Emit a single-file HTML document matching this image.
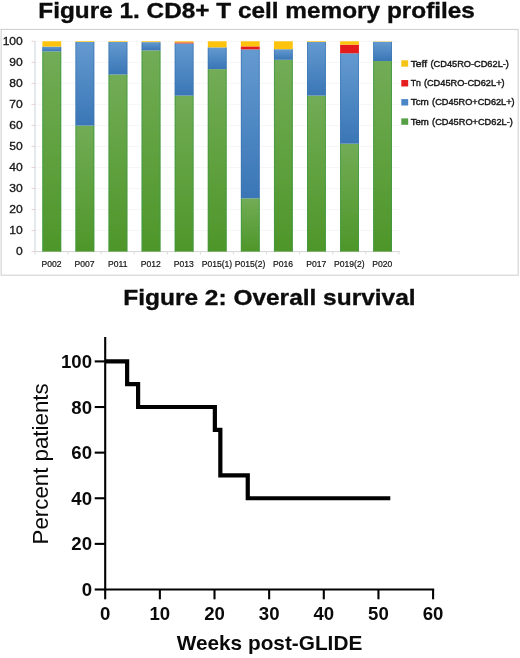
<!DOCTYPE html>
<html><head><meta charset="utf-8"><title>Figure</title>
<style>
html,body{margin:0;padding:0;background:#fff;}
body{width:520px;height:658px;overflow:hidden;font-family:"Liberation Sans",sans-serif;}
svg{display:block;}
text{font-family:"Liberation Sans",sans-serif;}
</style></head><body>
<svg width="520" height="658" viewBox="0 0 520 658">
<defs>
<linearGradient id="gG" x1="0" x2="0" y1="0" y2="1"><stop offset="0" stop-color="#72ac56"/><stop offset="1" stop-color="#4e9629"/></linearGradient>
<linearGradient id="gB" x1="0" x2="0" y1="0" y2="1"><stop offset="0" stop-color="#649ad0"/><stop offset="1" stop-color="#3a76b6"/></linearGradient>
<filter id="soft" x="0" y="0" width="520" height="300" filterUnits="userSpaceOnUse"><feGaussianBlur stdDeviation="0.45"/></filter>
</defs>
<rect x="0" y="0" width="520" height="658" fill="#fff"/>
<g opacity="0.999">
<text x="38.3" y="18" font-size="22.2" font-weight="bold" fill="#0c0c0c" stroke="#0c0c0c" stroke-width="0.35" textLength="436.6" lengthAdjust="spacingAndGlyphs">Figure 1. CD8+ T cell memory profiles</text>
<g filter="url(#soft)">
<rect x="1.1" y="29.4" width="517.1" height="245.8" fill="#fff" stroke="#cdcdcd" stroke-width="1"/>
<line x1="31.5" x2="35.0" y1="251.60" y2="251.60" stroke="#ecd2d0" stroke-width="1"/>
<text transform="translate(22.8,255.15) scale(1.1,1)" font-size="11" text-anchor="end" fill="#151515" stroke="#151515" stroke-width="0.3">0</text>
<line x1="31.5" x2="35.0" y1="230.57" y2="230.57" stroke="#ecd2d0" stroke-width="1"/>
<line x1="35.0" x2="398.88" y1="230.57" y2="230.57" stroke="#f6f6f6" stroke-width="1"/>
<text transform="translate(22.8,234.12) scale(1.1,1)" font-size="11" text-anchor="end" fill="#151515" stroke="#151515" stroke-width="0.3">10</text>
<line x1="31.5" x2="35.0" y1="209.54" y2="209.54" stroke="#ecd2d0" stroke-width="1"/>
<line x1="35.0" x2="398.88" y1="209.54" y2="209.54" stroke="#f6f6f6" stroke-width="1"/>
<text transform="translate(22.8,213.09) scale(1.1,1)" font-size="11" text-anchor="end" fill="#151515" stroke="#151515" stroke-width="0.3">20</text>
<line x1="31.5" x2="35.0" y1="188.51" y2="188.51" stroke="#ecd2d0" stroke-width="1"/>
<line x1="35.0" x2="398.88" y1="188.51" y2="188.51" stroke="#f6f6f6" stroke-width="1"/>
<text transform="translate(22.8,192.06) scale(1.1,1)" font-size="11" text-anchor="end" fill="#151515" stroke="#151515" stroke-width="0.3">30</text>
<line x1="31.5" x2="35.0" y1="167.48" y2="167.48" stroke="#ecd2d0" stroke-width="1"/>
<line x1="35.0" x2="398.88" y1="167.48" y2="167.48" stroke="#f6f6f6" stroke-width="1"/>
<text transform="translate(22.8,171.03) scale(1.1,1)" font-size="11" text-anchor="end" fill="#151515" stroke="#151515" stroke-width="0.3">40</text>
<line x1="31.5" x2="35.0" y1="146.45" y2="146.45" stroke="#ecd2d0" stroke-width="1"/>
<line x1="35.0" x2="398.88" y1="146.45" y2="146.45" stroke="#f6f6f6" stroke-width="1"/>
<text transform="translate(22.8,150.00) scale(1.1,1)" font-size="11" text-anchor="end" fill="#151515" stroke="#151515" stroke-width="0.3">50</text>
<line x1="31.5" x2="35.0" y1="125.42" y2="125.42" stroke="#ecd2d0" stroke-width="1"/>
<line x1="35.0" x2="398.88" y1="125.42" y2="125.42" stroke="#f6f6f6" stroke-width="1"/>
<text transform="translate(22.8,128.97) scale(1.1,1)" font-size="11" text-anchor="end" fill="#151515" stroke="#151515" stroke-width="0.3">60</text>
<line x1="31.5" x2="35.0" y1="104.39" y2="104.39" stroke="#ecd2d0" stroke-width="1"/>
<line x1="35.0" x2="398.88" y1="104.39" y2="104.39" stroke="#f6f6f6" stroke-width="1"/>
<text transform="translate(22.8,107.94) scale(1.1,1)" font-size="11" text-anchor="end" fill="#151515" stroke="#151515" stroke-width="0.3">70</text>
<line x1="31.5" x2="35.0" y1="83.36" y2="83.36" stroke="#ecd2d0" stroke-width="1"/>
<line x1="35.0" x2="398.88" y1="83.36" y2="83.36" stroke="#f6f6f6" stroke-width="1"/>
<text transform="translate(22.8,86.91) scale(1.1,1)" font-size="11" text-anchor="end" fill="#151515" stroke="#151515" stroke-width="0.3">80</text>
<line x1="31.5" x2="35.0" y1="62.33" y2="62.33" stroke="#ecd2d0" stroke-width="1"/>
<line x1="35.0" x2="398.88" y1="62.33" y2="62.33" stroke="#f6f6f6" stroke-width="1"/>
<text transform="translate(22.8,65.88) scale(1.1,1)" font-size="11" text-anchor="end" fill="#151515" stroke="#151515" stroke-width="0.3">90</text>
<line x1="31.5" x2="35.0" y1="41.30" y2="41.30" stroke="#ecd2d0" stroke-width="1"/>
<line x1="35.0" x2="398.88" y1="41.30" y2="41.30" stroke="#f6f6f6" stroke-width="1"/>
<text transform="translate(22.8,44.85) scale(1.1,1)" font-size="11" text-anchor="end" fill="#151515" stroke="#151515" stroke-width="0.3">100</text>
<line x1="35.0" x2="35.0" y1="41.3" y2="251.6" stroke="#c9d3dc" stroke-width="1"/>
<line x1="35.0" x2="399.88" y1="251.6" y2="251.6" stroke="#d4d4d4" stroke-width="1"/>
<line x1="35.00" x2="35.00" y1="251.6" y2="254.6" stroke="#dcdcdc" stroke-width="1"/>
<line x1="68.08" x2="68.08" y1="251.6" y2="254.6" stroke="#dcdcdc" stroke-width="1"/>
<line x1="101.16" x2="101.16" y1="251.6" y2="254.6" stroke="#dcdcdc" stroke-width="1"/>
<line x1="134.24" x2="134.24" y1="251.6" y2="254.6" stroke="#dcdcdc" stroke-width="1"/>
<line x1="167.32" x2="167.32" y1="251.6" y2="254.6" stroke="#dcdcdc" stroke-width="1"/>
<line x1="200.40" x2="200.40" y1="251.6" y2="254.6" stroke="#dcdcdc" stroke-width="1"/>
<line x1="233.48" x2="233.48" y1="251.6" y2="254.6" stroke="#dcdcdc" stroke-width="1"/>
<line x1="266.56" x2="266.56" y1="251.6" y2="254.6" stroke="#dcdcdc" stroke-width="1"/>
<line x1="299.64" x2="299.64" y1="251.6" y2="254.6" stroke="#dcdcdc" stroke-width="1"/>
<line x1="332.72" x2="332.72" y1="251.6" y2="254.6" stroke="#dcdcdc" stroke-width="1"/>
<line x1="365.80" x2="365.80" y1="251.6" y2="254.6" stroke="#dcdcdc" stroke-width="1"/>
<line x1="398.88" x2="398.88" y1="251.6" y2="254.6" stroke="#dcdcdc" stroke-width="1"/>
<rect x="42.40" y="51.40" width="18.8" height="200.20" fill="url(#gG)"/>
<rect x="42.40" y="51.40" width="0.9" height="200.20" fill="#3f9a44" fill-opacity="0.8"/>
<rect x="60.30" y="51.40" width="0.9" height="200.20" fill="#3f9a44" fill-opacity="0.8"/>
<rect x="42.40" y="46.60" width="18.8" height="4.80" fill="url(#gB)"/>
<rect x="42.40" y="46.60" width="0.9" height="4.80" fill="#3a74b4" fill-opacity="0.7"/>
<rect x="60.30" y="46.60" width="0.9" height="4.80" fill="#3a74b4" fill-opacity="0.7"/>
<rect x="42.40" y="41.30" width="18.8" height="5.30" fill="#fdc30c"/>
<text transform="translate(51.54,267.4) scale(0.925,1)" font-size="9.3" text-anchor="middle" fill="#151515" stroke="#151515" stroke-width="0.22">P002</text>
<rect x="75.48" y="125.60" width="18.8" height="126.00" fill="url(#gG)"/>
<rect x="75.48" y="125.60" width="0.9" height="126.00" fill="#3f9a44" fill-opacity="0.8"/>
<rect x="93.38" y="125.60" width="0.9" height="126.00" fill="#3f9a44" fill-opacity="0.8"/>
<rect x="75.48" y="42.00" width="18.8" height="83.60" fill="url(#gB)"/>
<rect x="75.48" y="42.00" width="0.9" height="83.60" fill="#3a74b4" fill-opacity="0.7"/>
<rect x="93.38" y="42.00" width="0.9" height="83.60" fill="#3a74b4" fill-opacity="0.7"/>
<rect x="75.48" y="41.30" width="18.8" height="0.70" fill="#fdc30c"/>
<text transform="translate(84.62,267.4) scale(0.925,1)" font-size="9.3" text-anchor="middle" fill="#151515" stroke="#151515" stroke-width="0.22">P007</text>
<rect x="108.56" y="74.50" width="18.8" height="177.10" fill="url(#gG)"/>
<rect x="108.56" y="74.50" width="0.9" height="177.10" fill="#3f9a44" fill-opacity="0.8"/>
<rect x="126.46" y="74.50" width="0.9" height="177.10" fill="#3f9a44" fill-opacity="0.8"/>
<rect x="108.56" y="42.00" width="18.8" height="32.50" fill="url(#gB)"/>
<rect x="108.56" y="42.00" width="0.9" height="32.50" fill="#3a74b4" fill-opacity="0.7"/>
<rect x="126.46" y="42.00" width="0.9" height="32.50" fill="#3a74b4" fill-opacity="0.7"/>
<rect x="108.56" y="41.30" width="18.8" height="0.70" fill="#fdc30c"/>
<text transform="translate(117.70,267.4) scale(0.925,1)" font-size="9.3" text-anchor="middle" fill="#151515" stroke="#151515" stroke-width="0.22">P011</text>
<rect x="141.64" y="50.40" width="18.8" height="201.20" fill="url(#gG)"/>
<rect x="141.64" y="50.40" width="0.9" height="201.20" fill="#3f9a44" fill-opacity="0.8"/>
<rect x="159.54" y="50.40" width="0.9" height="201.20" fill="#3f9a44" fill-opacity="0.8"/>
<rect x="141.64" y="42.10" width="18.8" height="8.30" fill="url(#gB)"/>
<rect x="141.64" y="42.10" width="0.9" height="8.30" fill="#3a74b4" fill-opacity="0.7"/>
<rect x="159.54" y="42.10" width="0.9" height="8.30" fill="#3a74b4" fill-opacity="0.7"/>
<rect x="141.64" y="41.30" width="18.8" height="0.80" fill="#fdc30c"/>
<text transform="translate(150.78,267.4) scale(0.925,1)" font-size="9.3" text-anchor="middle" fill="#151515" stroke="#151515" stroke-width="0.22">P012</text>
<rect x="174.72" y="95.60" width="18.8" height="156.00" fill="url(#gG)"/>
<rect x="174.72" y="95.60" width="0.9" height="156.00" fill="#3f9a44" fill-opacity="0.8"/>
<rect x="192.62" y="95.60" width="0.9" height="156.00" fill="#3f9a44" fill-opacity="0.8"/>
<rect x="174.72" y="43.40" width="18.8" height="52.20" fill="url(#gB)"/>
<rect x="174.72" y="43.40" width="0.9" height="52.20" fill="#3a74b4" fill-opacity="0.7"/>
<rect x="192.62" y="43.40" width="0.9" height="52.20" fill="#3a74b4" fill-opacity="0.7"/>
<rect x="174.72" y="42.40" width="18.8" height="1.00" fill="#e41a1c"/>
<rect x="174.72" y="41.30" width="18.8" height="1.10" fill="#fdc30c"/>
<text transform="translate(183.86,267.4) scale(0.925,1)" font-size="9.3" text-anchor="middle" fill="#151515" stroke="#151515" stroke-width="0.22">P013</text>
<rect x="207.80" y="69.10" width="18.8" height="182.50" fill="url(#gG)"/>
<rect x="207.80" y="69.10" width="0.9" height="182.50" fill="#3f9a44" fill-opacity="0.8"/>
<rect x="225.70" y="69.10" width="0.9" height="182.50" fill="#3f9a44" fill-opacity="0.8"/>
<rect x="207.80" y="47.40" width="18.8" height="21.70" fill="url(#gB)"/>
<rect x="207.80" y="47.40" width="0.9" height="21.70" fill="#3a74b4" fill-opacity="0.7"/>
<rect x="225.70" y="47.40" width="0.9" height="21.70" fill="#3a74b4" fill-opacity="0.7"/>
<rect x="207.80" y="41.30" width="18.8" height="6.10" fill="#fdc30c"/>
<text transform="translate(216.94,267.4) scale(0.925,1)" font-size="9.3" text-anchor="middle" fill="#151515" stroke="#151515" stroke-width="0.22">P015(1)</text>
<rect x="240.88" y="198.30" width="18.8" height="53.30" fill="url(#gG)"/>
<rect x="240.88" y="198.30" width="0.9" height="53.30" fill="#3f9a44" fill-opacity="0.8"/>
<rect x="258.78" y="198.30" width="0.9" height="53.30" fill="#3f9a44" fill-opacity="0.8"/>
<rect x="240.88" y="49.40" width="18.8" height="148.90" fill="url(#gB)"/>
<rect x="240.88" y="49.40" width="0.9" height="148.90" fill="#3a74b4" fill-opacity="0.7"/>
<rect x="258.78" y="49.40" width="0.9" height="148.90" fill="#3a74b4" fill-opacity="0.7"/>
<rect x="240.88" y="46.40" width="18.8" height="3.00" fill="#e41a1c"/>
<rect x="240.88" y="41.30" width="18.8" height="5.10" fill="#fdc30c"/>
<text transform="translate(250.02,267.4) scale(0.925,1)" font-size="9.3" text-anchor="middle" fill="#151515" stroke="#151515" stroke-width="0.22">P015(2)</text>
<rect x="273.96" y="59.80" width="18.8" height="191.80" fill="url(#gG)"/>
<rect x="273.96" y="59.80" width="0.9" height="191.80" fill="#3f9a44" fill-opacity="0.8"/>
<rect x="291.86" y="59.80" width="0.9" height="191.80" fill="#3f9a44" fill-opacity="0.8"/>
<rect x="273.96" y="49.20" width="18.8" height="10.60" fill="url(#gB)"/>
<rect x="273.96" y="49.20" width="0.9" height="10.60" fill="#3a74b4" fill-opacity="0.7"/>
<rect x="291.86" y="49.20" width="0.9" height="10.60" fill="#3a74b4" fill-opacity="0.7"/>
<rect x="273.96" y="41.30" width="18.8" height="7.90" fill="#fdc30c"/>
<text transform="translate(283.10,267.4) scale(0.925,1)" font-size="9.3" text-anchor="middle" fill="#151515" stroke="#151515" stroke-width="0.22">P016</text>
<rect x="307.04" y="95.60" width="18.8" height="156.00" fill="url(#gG)"/>
<rect x="307.04" y="95.60" width="0.9" height="156.00" fill="#3f9a44" fill-opacity="0.8"/>
<rect x="324.94" y="95.60" width="0.9" height="156.00" fill="#3f9a44" fill-opacity="0.8"/>
<rect x="307.04" y="42.00" width="18.8" height="53.60" fill="url(#gB)"/>
<rect x="307.04" y="42.00" width="0.9" height="53.60" fill="#3a74b4" fill-opacity="0.7"/>
<rect x="324.94" y="42.00" width="0.9" height="53.60" fill="#3a74b4" fill-opacity="0.7"/>
<rect x="307.04" y="41.30" width="18.8" height="0.70" fill="#fdc30c"/>
<text transform="translate(316.18,267.4) scale(0.925,1)" font-size="9.3" text-anchor="middle" fill="#151515" stroke="#151515" stroke-width="0.22">P017</text>
<rect x="340.12" y="143.70" width="18.8" height="107.90" fill="url(#gG)"/>
<rect x="340.12" y="143.70" width="0.9" height="107.90" fill="#3f9a44" fill-opacity="0.8"/>
<rect x="358.02" y="143.70" width="0.9" height="107.90" fill="#3f9a44" fill-opacity="0.8"/>
<rect x="340.12" y="53.30" width="18.8" height="90.40" fill="url(#gB)"/>
<rect x="340.12" y="53.30" width="0.9" height="90.40" fill="#3a74b4" fill-opacity="0.7"/>
<rect x="358.02" y="53.30" width="0.9" height="90.40" fill="#3a74b4" fill-opacity="0.7"/>
<rect x="340.12" y="44.70" width="18.8" height="8.60" fill="#e41a1c"/>
<rect x="340.12" y="41.30" width="18.8" height="3.40" fill="#fdc30c"/>
<text transform="translate(349.26,267.4) scale(0.925,1)" font-size="9.3" text-anchor="middle" fill="#151515" stroke="#151515" stroke-width="0.22">P019(2)</text>
<rect x="373.20" y="61.00" width="18.8" height="190.60" fill="url(#gG)"/>
<rect x="373.20" y="61.00" width="0.9" height="190.60" fill="#3f9a44" fill-opacity="0.8"/>
<rect x="391.10" y="61.00" width="0.9" height="190.60" fill="#3f9a44" fill-opacity="0.8"/>
<rect x="373.20" y="41.80" width="18.8" height="19.20" fill="url(#gB)"/>
<rect x="373.20" y="41.80" width="0.9" height="19.20" fill="#3a74b4" fill-opacity="0.7"/>
<rect x="391.10" y="41.80" width="0.9" height="19.20" fill="#3a74b4" fill-opacity="0.7"/>
<rect x="373.20" y="41.50" width="18.8" height="0.30" fill="#fdc30c"/>
<text transform="translate(382.34,267.4) scale(0.925,1)" font-size="9.3" text-anchor="middle" fill="#151515" stroke="#151515" stroke-width="0.22">P020</text>
<rect x="401.3" y="60.30" width="6.9" height="6.4" fill="#f4c514"/>
<text x="410.7" y="66.60" font-size="9.2" fill="#151515" stroke="#151515" stroke-width="0.4" textLength="16.4" lengthAdjust="spacingAndGlyphs">Teff</text>
<text x="430.5" y="66.50" font-size="9.2" fill="#151515" stroke="#151515" stroke-width="0.4" textLength="78.4" lengthAdjust="spacingAndGlyphs">(CD45RO-CD62L-)</text>
<rect x="401.3" y="80.05" width="6.9" height="6.4" fill="#e41a1c"/>
<text x="410.7" y="86.35" font-size="9.2" fill="#151515" stroke="#151515" stroke-width="0.4" textLength="10.2" lengthAdjust="spacingAndGlyphs">Tn</text>
<text x="423.9" y="86.25" font-size="9.2" fill="#151515" stroke="#151515" stroke-width="0.4" textLength="80.7" lengthAdjust="spacingAndGlyphs">(CD45RO-CD62L+)</text>
<rect x="401.3" y="99.10" width="6.9" height="6.4" fill="#4a86c8"/>
<text x="410.7" y="105.40" font-size="9.2" fill="#151515" stroke="#151515" stroke-width="0.4" textLength="18.2" lengthAdjust="spacingAndGlyphs">Tcm</text>
<text x="432.1" y="105.30" font-size="9.2" fill="#151515" stroke="#151515" stroke-width="0.4" textLength="82.5" lengthAdjust="spacingAndGlyphs">(CD45RO+CD62L+)</text>
<rect x="401.3" y="118.40" width="6.9" height="6.4" fill="#55a045"/>
<text x="410.7" y="124.70" font-size="9.2" fill="#151515" stroke="#151515" stroke-width="0.4" textLength="18.2" lengthAdjust="spacingAndGlyphs">Tem</text>
<text x="432.1" y="124.60" font-size="9.2" fill="#151515" stroke="#151515" stroke-width="0.4" textLength="80.7" lengthAdjust="spacingAndGlyphs">(CD45RO+CD62L-)</text>
</g>
<text x="123.3" y="305" font-size="22.2" font-weight="bold" fill="#0c0c0c" stroke="#0c0c0c" stroke-width="0.35" textLength="292.3" lengthAdjust="spacingAndGlyphs">Figure 2: Overall survival</text>
<path d="M105.2 337.1 V589.5 H434.15" fill="none" stroke="#000" stroke-width="2.1"/>
<line x1="94.7" x2="105.2" y1="589.50" y2="589.50" stroke="#000" stroke-width="2.1"/>
<text x="92.0" y="596.10" font-size="18.6" font-weight="bold" text-anchor="end" fill="#0a0a0a">0</text>
<line x1="94.7" x2="105.2" y1="543.88" y2="543.88" stroke="#000" stroke-width="2.1"/>
<text x="92.0" y="550.48" font-size="18.6" font-weight="bold" text-anchor="end" fill="#0a0a0a">20</text>
<line x1="94.7" x2="105.2" y1="498.26" y2="498.26" stroke="#000" stroke-width="2.1"/>
<text x="92.0" y="504.86" font-size="18.6" font-weight="bold" text-anchor="end" fill="#0a0a0a">40</text>
<line x1="94.7" x2="105.2" y1="452.64" y2="452.64" stroke="#000" stroke-width="2.1"/>
<text x="92.0" y="459.24" font-size="18.6" font-weight="bold" text-anchor="end" fill="#0a0a0a">60</text>
<line x1="94.7" x2="105.2" y1="407.02" y2="407.02" stroke="#000" stroke-width="2.1"/>
<text x="92.0" y="413.62" font-size="18.6" font-weight="bold" text-anchor="end" fill="#0a0a0a">80</text>
<line x1="94.7" x2="105.2" y1="361.40" y2="361.40" stroke="#000" stroke-width="2.1"/>
<text x="92.0" y="368.00" font-size="18.6" font-weight="bold" text-anchor="end" fill="#0a0a0a">100</text>
<line x1="105.20" x2="105.20" y1="589.5" y2="599.3" stroke="#000" stroke-width="2.1"/>
<text x="105.20" y="620.2" font-size="18.6" font-weight="bold" text-anchor="middle" fill="#0a0a0a">0</text>
<line x1="159.85" x2="159.85" y1="589.5" y2="599.3" stroke="#000" stroke-width="2.1"/>
<text x="159.85" y="620.2" font-size="18.6" font-weight="bold" text-anchor="middle" fill="#0a0a0a">10</text>
<line x1="214.50" x2="214.50" y1="589.5" y2="599.3" stroke="#000" stroke-width="2.1"/>
<text x="214.50" y="620.2" font-size="18.6" font-weight="bold" text-anchor="middle" fill="#0a0a0a">20</text>
<line x1="269.15" x2="269.15" y1="589.5" y2="599.3" stroke="#000" stroke-width="2.1"/>
<text x="269.15" y="620.2" font-size="18.6" font-weight="bold" text-anchor="middle" fill="#0a0a0a">30</text>
<line x1="323.80" x2="323.80" y1="589.5" y2="599.3" stroke="#000" stroke-width="2.1"/>
<text x="323.80" y="620.2" font-size="18.6" font-weight="bold" text-anchor="middle" fill="#0a0a0a">40</text>
<line x1="378.45" x2="378.45" y1="589.5" y2="599.3" stroke="#000" stroke-width="2.1"/>
<text x="378.45" y="620.2" font-size="18.6" font-weight="bold" text-anchor="middle" fill="#0a0a0a">50</text>
<line x1="433.10" x2="433.10" y1="589.5" y2="599.3" stroke="#000" stroke-width="2.1"/>
<text x="433.10" y="620.2" font-size="18.6" font-weight="bold" text-anchor="middle" fill="#0a0a0a">60</text>
<path d="M105.20 361.40 L127.13 361.40 L127.13 384.21 L138.10 384.21 L138.10 407.02 L214.86 407.02 L214.86 429.83 L220.34 429.83 L220.34 475.45 L247.76 475.45 L247.76 498.26 L390.32 498.26" fill="none" stroke="#000" stroke-width="4.2" stroke-linejoin="miter"/>
<text transform="translate(48.1,544.4) rotate(-90)" font-size="21.3" fill="#0a0a0a" textLength="161" lengthAdjust="spacingAndGlyphs">Percent patients</text>
<text x="176.7" y="650" font-size="20.1" font-weight="bold" fill="#0a0a0a" textLength="185.6" lengthAdjust="spacingAndGlyphs">Weeks post-GLIDE</text>
</g>
</svg>
</body></html>
